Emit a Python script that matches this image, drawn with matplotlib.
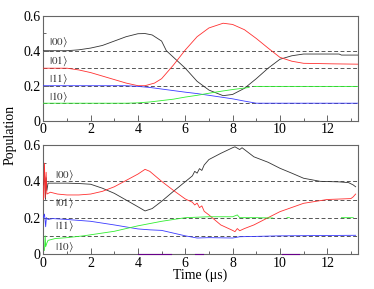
import numpy as np
import matplotlib
matplotlib.use("Agg")
import matplotlib.pyplot as plt
from matplotlib.ticker import MultipleLocator

plt.rcParams['font.family'] = ['Liberation Serif', 'DejaVu Serif']
plt.rcParams['mathtext.fontset'] = 'stix'

nan = np.nan

# ---------- top panel data ----------
top_black_t = [0, 1.0, 1.5, 2, 2.5, 3, 3.5, 4, 4.3, 4.6, 5, 5.2, 5.6, 6, 6.5, 7, 7.6, 8, 8.5, 9, 9.5, 10, 10.5, 11, 12.5, 12.6, 13.3]
top_black_v = [0.4, 0.4, 0.405, 0.415, 0.43, 0.455, 0.48, 0.497, 0.498, 0.49, 0.455, 0.4, 0.35, 0.3, 0.225, 0.175, 0.143, 0.15, 0.185, 0.24, 0.3, 0.351, 0.371, 0.381, 0.381, 0.375, 0.375]

top_red_t = [0, 1, 1.5, 2, 2.5, 3, 3.5, 4, 4.3, 4.7, 5, 5.5, 6, 6.5, 7, 7.6, 8, 8.5, 9, 9.5, 10, 10.5, 11, 12.2, 13.3]
top_red_v = [0.3, 0.3, 0.29, 0.275, 0.255, 0.235, 0.215, 0.2, 0.2, 0.215, 0.24, 0.318, 0.404, 0.48, 0.53, 0.557, 0.55, 0.52, 0.47, 0.415, 0.362, 0.34, 0.328, 0.325, 0.323]

top_blue_t = [0, 3.5, 4, 4.5, 5, 5.5, 6, 6.5, 7, 7.5, 8, 8.5, 9, 13.3]
top_blue_v = [0.2, 0.2, 0.196, 0.19, 0.181, 0.172, 0.163, 0.155, 0.145, 0.135, 0.125, 0.112, 0.1, 0.1]

top_green_t = [0, 3.5, 4, 4.5, 5, 5.5, 6, 6.5, 7, 7.5, 8, 8.7, 8.75, 8.9, 13.3]
top_green_v = [0.1, 0.1, 0.102, 0.107, 0.115, 0.123, 0.135, 0.145, 0.157, 0.168, 0.178, 0.19, nan, 0.196, 0.196]

# ---------- bottom panel data ----------
bot_black_t = [0, 0.06, 0.09, 0.12, 0.15, 0.2, 0.5, 1, 1.5, 2, 2.5, 3, 3.5, 4, 4.3, 4.6, 5, 5.5, 6, 6.3, 6.4, 6.5, 6.6, 6.7, 6.8, 7, 7.5, 8, 8.1, 8.3, 8.4, 8.9, 9.5, 10, 10.5, 11, 11.7, 12.5, 12.9, 13.1, 13.2]
bot_black_v = [0.38, 0.43, 0.3, 0.42, 0.35, 0.39, 0.39, 0.39, 0.388, 0.384, 0.362, 0.334, 0.297, 0.26, 0.237, 0.25, 0.29, 0.345, 0.398, 0.43, 0.455, 0.445, 0.47, 0.46, 0.49, 0.52, 0.554, 0.585, 0.59, 0.575, 0.585, 0.535, 0.505, 0.472, 0.445, 0.417, 0.4, 0.397, 0.393, 0.38, 0.37]

bot_red_t = [0, 0.05, 0.08, 0.12, 0.15, 0.3, 0.6, 1, 1.5, 2, 2.5, 3, 3.5, 4, 4.3, 4.5, 5, 5.5, 6, 6.3, 6.4, 6.5, 6.6, 6.7, 6.8, 7, 7.5, 8, 8.1, 8.2, 8.3, 8.5, 8.9, 9.5, 10, 11, 12, 13, 13.1, 13.2]
bot_red_v = [0.3, 0.5, 0.31, 0.45, 0.33, 0.34, 0.33, 0.325, 0.325, 0.33, 0.345, 0.37, 0.405, 0.44, 0.466, 0.455, 0.4, 0.35, 0.303, 0.285, 0.27, 0.28, 0.255, 0.265, 0.235, 0.215, 0.16, 0.13, 0.123, 0.14, 0.128, 0.14, 0.16, 0.2, 0.233, 0.279, 0.3, 0.305, 0.315, 0.33]

bot_blue_t = [0, 0.05, 0.1, 0.13, 0.2, 0.4, 1, 2, 3, 4, 4.5, 5, 5.5, 6, 6.5, 7, 8, 8.3, 9, 10, 13.2]
bot_blue_v = [0.2, 0.22, 0.15, 0.2, 0.19, 0.195, 0.19, 0.18, 0.16, 0.138, 0.133, 0.13, 0.115, 0.1, 0.088, 0.09, 0.088, 0.095, 0.097, 0.1, 0.103]

bot_green_t = [0.05, 0.08, 0.1, 0.15, 0.2, 0.5, 1, 1.7, 3, 4, 5, 6, 7, 8, 8.2, 8.3, 9, 9.7, 9.75, 10.3, 10.4, 10.45, 12.6, 13.1]
bot_green_v = [0.02, 0.1, 0.04, 0.06, 0.075, 0.085, 0.09, 0.1, 0.125, 0.155, 0.18, 0.2, 0.205, 0.205, 0.215, 0.2, 0.2, 0.198, nan, 0.2, 0.2, nan, 0.2, 0.2]

bot_purple_t = [4.0, 5.4, 5.45, 6.4, 6.75, 6.8, 10.1, 10.8]
bot_purple_v = [0.0, 0.0, nan, 0.0, 0.0, nan, 0.0, 0.0]

ref_levels = [0.4, 0.3, 0.2, 0.1]
top_labels = [r'$|00\rangle$', r'$|01\rangle$', r'$|11\rangle$', r'$|10\rangle$']
top_label_y = [0.446, 0.337, 0.236, 0.131]
bot_labels = [r'$|00\rangle$', r'$|01\rangle$', r'$|11\rangle$', r'$|10\rangle$']
bot_label_y = [0.435, 0.279, 0.154, 0.035]

fig = plt.figure(figsize=(3.74, 2.89), dpi=100)
left = 43.3 / 374
width = (358 - 43.3) / 374
ax1 = fig.add_axes([left, 1 - 120.7 / 289, width, 105 / 289])
ax2 = fig.add_axes([left, 1 - 254 / 289, width, 109 / 289])

spine_col = '#666666'
lw = 0.6

def style(ax):
    ax.set_xlim(0, 13.3)
    ax.set_ylim(0, 0.6)
    ax.xaxis.set_major_locator(MultipleLocator(2))
    ax.xaxis.set_minor_locator(MultipleLocator(1))
    ax.yaxis.set_major_locator(MultipleLocator(0.2))
    ax.yaxis.set_minor_locator(MultipleLocator(0.1))
    ax.set_xticks([0, 2, 4, 6, 8, 10, 12])
    ax.set_xticklabels(['0', '2', '4', '6', '8', '10', '12'])
    ax.set_yticks([0, 0.2, 0.4, 0.6])
    ax.set_yticklabels(['0', '0.2', '0.4', '0.6'])
    ax.tick_params(which='both', direction='in', top=False, right=False,
                   color=spine_col, labelsize=10, pad=2, width=0.7)
    ax.tick_params(which='major', length=4)
    ax.tick_params(which='minor', length=2.5)
    for s in ax.spines.values():
        s.set_color(spine_col)
        s.set_linewidth(0.8)
    for lv in ref_levels:
        ax.axhline(lv, color='#555555', lw=0.7, ls=(0, (4, 2.5)), zorder=1)

style(ax1)
style(ax2)

black_c, red_c, blue_c, green_c = '#333333', '#ff3030', '#3a3aff', '#30ee30'

ax1.plot(top_black_t, top_black_v, color=black_c, lw=lw, zorder=3)
ax1.plot(top_red_t, top_red_v, color=red_c, lw=lw, zorder=3)
ax1.plot(top_blue_t, top_blue_v, color=blue_c, lw=lw, zorder=3)
ax1.plot(top_green_t, top_green_v, color=green_c, lw=lw, zorder=3)

ax2.plot(bot_black_t, bot_black_v, color=black_c, lw=lw, zorder=3)
ax2.plot(bot_red_t, bot_red_v, color=red_c, lw=lw, zorder=3)
ax2.plot(bot_blue_t, bot_blue_v, color=blue_c, lw=lw, zorder=3)
ax2.plot(bot_green_t, bot_green_v, color=green_c, lw=lw, zorder=3)
ax2.plot(bot_purple_t, bot_purple_v, color='#660088', lw=0.8, zorder=3, clip_on=False)

for lab, yy in zip(top_labels, top_label_y):
    ax1.text(0.25, yy, lab, fontsize=8, color='#333333', va='center', ha='left')
for lab, yy in zip(bot_labels, bot_label_y):
    ax2.text(0.5, yy, lab, fontsize=8, color='#333333', va='center', ha='left')

fig.text(10 / 374, 1 - 135 / 289, 'Population', rotation=90, ha='center', va='center', fontsize=10)
fig.text(200 / 374, 1 - 275 / 289, 'Time (μs)', ha='center', va='center', fontsize=10)

fig.savefig('out.png', dpi=100)
